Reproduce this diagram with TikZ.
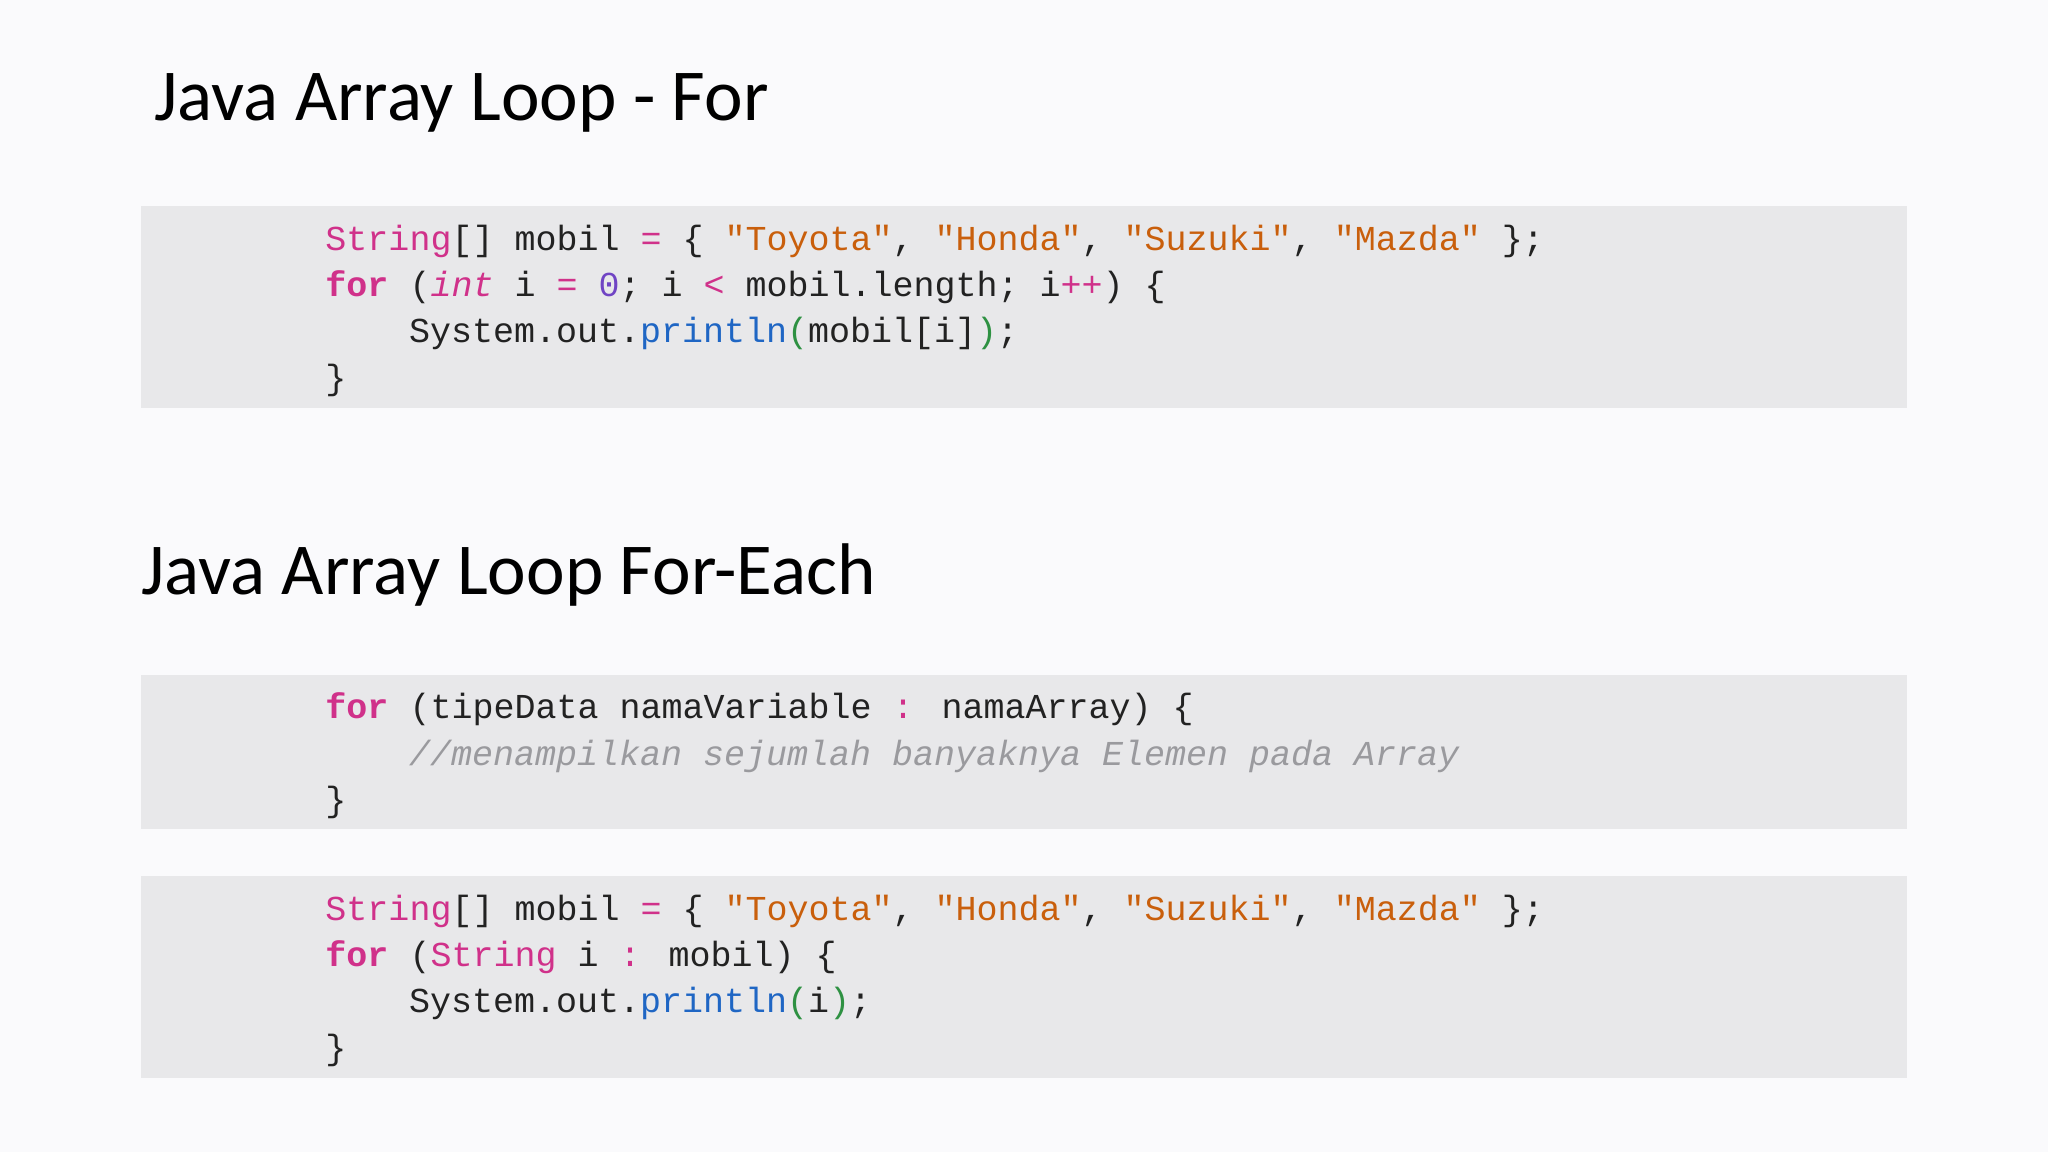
\documentclass[tikz,border=0pt]{standalone}
\usepackage{fontspec}
\setmainfont{Carlito}
\newfontfamily\code{Liberation Mono}
\definecolor{bg}{HTML}{FAFAFC}
\definecolor{box}{HTML}{E8E8EA}
\definecolor{kw}{HTML}{D0318A}
\definecolor{st}{HTML}{C95F0C}
\definecolor{nm}{HTML}{7044C4}
\definecolor{fn}{HTML}{1F66C4}
\definecolor{pr}{HTML}{2E9142}
\definecolor{cm}{HTML}{9A9A9E}
\definecolor{tx}{HTML}{222222}
\newcommand{\K}[1]{\textcolor{kw}{#1}}
\newcommand{\Sg}[1]{\textcolor{st}{#1}}
\begin{document}
\begin{tikzpicture}[x=1pt,y=-1pt,
  title/.style={anchor=base west,inner sep=0pt,font=\fontsize{56}{60}\selectfont,text=black},
  cl/.style={anchor=base west,inner sep=0pt,font=\code\fontsize{26.8}{30}\selectfont,text=tx},
  cbox/.style={fill=box,draw=none}]
\fill[bg] (0,0) rectangle (1568,882);
\useasboundingbox (0,0) rectangle (1568,882);
\node[title] (t1) at (118,92) {Java Array Loop - For};
\fill[box] (108,158) rectangle (1460,312);
\node[cl] (a1) at (249,192) {\K{String}[] mobil \K{=} \{ \Sg{"Toyota"}, \Sg{"Honda"}, \Sg{"Suzuki"}, \Sg{"Mazda"} \};};
\node[cl] (a2) at (249,227) {\K{\textbf{for}} (\K{\textit{int}} i \K{=} \textcolor{nm}{0}; i \K{<} mobil.length; i\K{++}) \{};
\node[cl] (a3) at (313,262) {System.out.\textcolor{fn}{println}\textcolor{pr}{(}mobil[i]\textcolor{pr}{)};};
\node[cl] (a4) at (249,298) {\}};
\node[title] (t2) at (108,455) {Java Array Loop For-Each};
\fill[box] (108,517) rectangle (1460,635);
\node[cl] (b1) at (249,550) {\K{\textbf{for}} (tipeData namaVariable \K{:} namaArray) \{};
\node[cl] (b2) at (313,586) {\textcolor{cm}{\textit{//menampilkan sejumlah banyaknya Elemen pada Array}}};
\node[cl] (b3) at (249,621) {\}};
\fill[box] (108,671) rectangle (1460,825);
\node[cl] (c1) at (249,705) {\K{String}[] mobil \K{=} \{ \Sg{"Toyota"}, \Sg{"Honda"}, \Sg{"Suzuki"}, \Sg{"Mazda"} \};};
\node[cl] (c2) at (249,740) {\K{\textbf{for}} (\K{String} i \K{:} mobil) \{};
\node[cl] (c3) at (313,775) {System.out.\textcolor{fn}{println}\textcolor{pr}{(}i\textcolor{pr}{)};};
\node[cl] (c4) at (249,811) {\}};
\end{tikzpicture}
\end{document}
